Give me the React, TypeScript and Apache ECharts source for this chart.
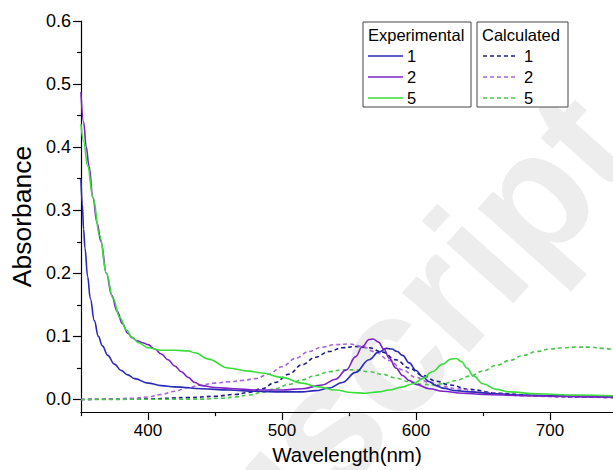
import React, { useEffect, useRef } from 'react';
import * as echarts from 'echarts';

// ---- data ----
const wlExp1 = [350, 351, 352, 353, 355, 357, 360, 363, 366, 370, 375, 380, 385, 390, 400, 410, 420, 440, 460, 480, 500, 515, 525, 535, 545, 555, 565, 572, 578, 582, 586, 590, 595, 600, 605, 610, 615, 620, 630, 640, 660, 680, 700, 720, 747];
const absExp1 = [0.35, 0.31, 0.27, 0.24, 0.195, 0.16, 0.125, 0.1, 0.085, 0.07, 0.056, 0.046, 0.039, 0.033, 0.026, 0.022, 0.02, 0.017, 0.015, 0.013, 0.012, 0.012, 0.014, 0.018, 0.027, 0.043, 0.063, 0.075, 0.081, 0.08, 0.076, 0.07, 0.058, 0.046, 0.036, 0.028, 0.022, 0.018, 0.014, 0.012, 0.009, 0.007, 0.006, 0.005, 0.004];

const wlExp2 = [350, 352, 354, 356, 359, 362, 365, 369, 373, 377, 381, 385, 388, 392, 396, 400, 405, 410, 415, 420, 425, 430, 435, 440, 450, 465, 480, 500, 515, 530, 540, 548, 555, 560, 565, 568, 572, 576, 580, 585, 590, 595, 600, 610, 620, 635, 650, 680, 710, 747];
const absExp2 = [0.487, 0.44, 0.4, 0.37, 0.32, 0.28, 0.25, 0.2, 0.165, 0.14, 0.12, 0.105, 0.098, 0.093, 0.09, 0.087, 0.08, 0.072, 0.063, 0.053, 0.044, 0.035, 0.027, 0.022, 0.019, 0.017, 0.015, 0.015, 0.017, 0.023, 0.032, 0.047, 0.068, 0.084, 0.095, 0.096, 0.091, 0.08, 0.066, 0.05, 0.038, 0.03, 0.024, 0.017, 0.013, 0.01, 0.008, 0.006, 0.005, 0.004];

const wlExp5 = [350, 352, 355, 359, 364, 369, 374, 379, 384, 388, 393, 400, 410, 420, 430, 435, 445, 460, 475, 485, 500, 515, 527, 540, 552, 562, 572, 580, 590, 598, 605, 612, 620, 626, 630, 634, 638, 643, 650, 660, 670, 690, 720, 747];
const absExp5 = [0.437, 0.41, 0.37, 0.32, 0.26, 0.2, 0.16, 0.13, 0.11, 0.099, 0.09, 0.082, 0.078, 0.078, 0.077, 0.074, 0.064, 0.05, 0.045, 0.042, 0.035, 0.026, 0.02, 0.015, 0.011, 0.01, 0.012, 0.015, 0.02, 0.025, 0.033, 0.044, 0.056, 0.064, 0.065, 0.06, 0.05, 0.037, 0.025, 0.016, 0.012, 0.009, 0.007, 0.006];

const wlCalc1 = [350, 400, 430, 450, 465, 475, 485, 495, 505, 515, 525, 535, 545, 555, 565, 575, 585, 595, 605, 615, 625, 640, 660, 690, 720, 747];
const absCalc1 = [0, 0.001, 0.003, 0.005, 0.008, 0.011, 0.017, 0.027, 0.04, 0.055, 0.067, 0.076, 0.082, 0.084, 0.082, 0.075, 0.063, 0.05, 0.038, 0.029, 0.023, 0.016, 0.01, 0.006, 0.004, 0.003];

const wlCalc2 = [350, 370, 390, 400, 410, 420, 430, 440, 450, 460, 470, 480, 490, 500, 510, 520, 530, 540, 550, 560, 570, 580, 590, 600, 610, 620, 630, 650, 680, 710, 747];
const absCalc2 = [0, 0.0005, 0.002, 0.004, 0.008, 0.013, 0.019, 0.023, 0.026, 0.028, 0.03, 0.033, 0.04, 0.052, 0.065, 0.076, 0.083, 0.087, 0.088, 0.084, 0.075, 0.062, 0.047, 0.035, 0.027, 0.021, 0.017, 0.011, 0.006, 0.004, 0.003];

const wlCalc5 = [350, 440, 455, 465, 475, 485, 495, 505, 515, 525, 535, 545, 555, 565, 575, 585, 595, 605, 612, 620, 630, 640, 650, 660, 670, 680, 690, 700, 710, 720, 730, 740, 747];
const absCalc5 = [0, 0.0005, 0.002, 0.004, 0.007, 0.011, 0.017, 0.024, 0.031, 0.038, 0.044, 0.047, 0.047, 0.044, 0.04, 0.034, 0.028, 0.024, 0.023, 0.025, 0.03, 0.037, 0.045, 0.054, 0.062, 0.07, 0.076, 0.08, 0.082, 0.083, 0.083, 0.081, 0.079];

const xMajorTicks = [400, 500, 600, 700];
const xMinorTicks = [350, 450, 550, 650];
const yMajorTicks = [0, 0.1, 0.2, 0.3, 0.4, 0.5, 0.6];
const yMinorTicks = [0.05, 0.15, 0.25, 0.35, 0.45, 0.55];

const legendHeaders = ['Experimental', 'Calculated'];
const compoundLabels = ['1', '2', '5'];

const expColors = ['#2a2ab8', '#7d22c6', '#3ade3a'];
const calcColors = ['#1b1b8a', '#a763d8', '#4cc44c'];

const FONT = 'Liberation Sans, Arial, sans-serif';

const zip = (xs: number[], ys: number[]) => xs.map((x, i) => [x, ys[i]]);

export default function App() {
  const ref = useRef<HTMLDivElement>(null);
  useEffect(() => {
    if (!ref.current) return;
    const chart = echarts.init(ref.current, undefined, { renderer: 'svg' });

    const expData = [zip(wlExp1, absExp1), zip(wlExp2, absExp2), zip(wlExp5, absExp5)];
    const calcData = [zip(wlCalc1, absCalc1), zip(wlCalc2, absCalc2), zip(wlCalc5, absCalc5)];

    const series: any[] = [];
    calcData.forEach((d, i) => {
      series.push({
        type: 'line', name: 'Calculated ' + compoundLabels[i], data: d, xAxisIndex: 0, yAxisIndex: 0,
        showSymbol: false, smooth: 0.4, smoothMonotone: 'x',
        lineStyle: { color: calcColors[i], width: 1.6, type: [4, 3] }, z: 3,
      });
    });
    expData.forEach((d, i) => {
      series.push({
        type: 'line', name: 'Experimental ' + compoundLabels[i], data: d, xAxisIndex: 0, yAxisIndex: 0,
        showSymbol: false, smooth: 0.4, smoothMonotone: 'x',
        lineStyle: { color: expColors[i], width: 1.6 }, z: 4,
      });
    });

    const graphics: any[] = [];
    graphics.push({
      type: 'text', x: 600, y: 118, rotation: 0.84, z: -5, silent: true,
      style: { text: 'Manuscript', fill: '#ededed', fontSize: 170, fontWeight: 'bold', fontFamily: FONT, align: 'right', verticalAlign: 'middle' },
    });
    const boxes = [
      { x: 363, w: 108, lineX1: 368, lineX2: 403, numX: 407, dashed: false, colors: expColors },
      { x: 477, w: 91, lineX1: 483, lineX2: 516, numX: 524, dashed: true, colors: calcColors },
    ];
    const boxTop = 22;
    const rowH = 21;
    boxes.forEach((b, bi) => {
      graphics.push({
        type: 'rect', z: 50, shape: { x: b.x, y: boxTop, width: b.w, height: 85 },
        style: { fill: '#ffffff', stroke: '#444444', lineWidth: 1 },
      });
      graphics.push({
        type: 'text', z: 51, x: b.x + 5, y: boxTop + 13,
        style: { text: legendHeaders[bi], fill: '#000', fontSize: 16.5, fontFamily: FONT, align: 'left', verticalAlign: 'middle' },
      });
      compoundLabels.forEach((lab, i) => {
        const y = boxTop + 13 + rowH * (i + 1);
        graphics.push({
          type: 'line', z: 51, shape: { x1: b.lineX1, y1: y, x2: b.lineX2, y2: y },
          style: { stroke: b.colors[i], lineWidth: 1.6, lineDash: b.dashed ? [4, 3] : null },
        });
        graphics.push({
          type: 'text', z: 51, x: b.numX, y: y,
          style: { text: lab, fill: '#000', fontSize: 16.5, fontFamily: FONT, align: 'left', verticalAlign: 'middle' },
        });
      });
    });

    const axisLine = { show: true, lineStyle: { color: '#000', width: 1.2 } };

    chart.setOption({
      animation: false,
      backgroundColor: '#ffffff',
      textStyle: { fontFamily: FONT },
      grid: { left: 79, top: 21, right: 0, bottom: 52, containLabel: false },
      xAxis: [
        {
          type: 'value', min: 350, max: 747, position: 'bottom',
          name: 'Wavelength(nm)', nameLocation: 'middle', nameGap: 24,
          nameTextStyle: { fontSize: 20.5, color: '#000', fontFamily: FONT },
          axisLine: { ...axisLine, onZero: false },
          axisTick: { show: true, inside: false, length: 8, customValues: xMajorTicks, lineStyle: { color: '#000', width: 1.2 } },
          axisLabel: { show: true, customValues: xMajorTicks, fontSize: 17, color: '#000', margin: 10, fontFamily: FONT },
          splitLine: { show: false },
        },
        {
          type: 'value', min: 350, max: 747, position: 'bottom',
          axisLine: { show: false, onZero: false },
          axisTick: { show: true, inside: false, length: 4, customValues: xMinorTicks, lineStyle: { color: '#000', width: 1.2 } },
          axisLabel: { show: false },
          splitLine: { show: false },
        },
      ],
      yAxis: [
        {
          type: 'value', min: -0.02, max: 0.6, position: 'left',
          name: 'Absorbance', nameLocation: 'middle', nameGap: 44,
          nameTextStyle: { fontSize: 26.5, color: '#000', fontFamily: FONT },
          axisLine: { ...axisLine, onZero: false },
          axisTick: { show: true, inside: false, length: 8, customValues: yMajorTicks, lineStyle: { color: '#000', width: 1.2 } },
          axisLabel: { show: true, customValues: yMajorTicks, fontSize: 18, color: '#000', margin: 10, fontFamily: FONT, formatter: (v: number) => v.toFixed(1) },
          splitLine: { show: false },
        },
        {
          type: 'value', min: -0.02, max: 0.6, position: 'left',
          axisLine: { show: false, onZero: false },
          axisTick: { show: true, inside: false, length: 4, customValues: yMinorTicks, lineStyle: { color: '#000', width: 1.2 } },
          axisLabel: { show: false },
          splitLine: { show: false },
        },
      ],
      graphic: graphics,
      series,
    });
    return () => chart.dispose();
  }, []);
  return <div ref={ref} style={{ position: 'fixed', left: 0, top: 0, width: 613, height: 470 }} />;
}
